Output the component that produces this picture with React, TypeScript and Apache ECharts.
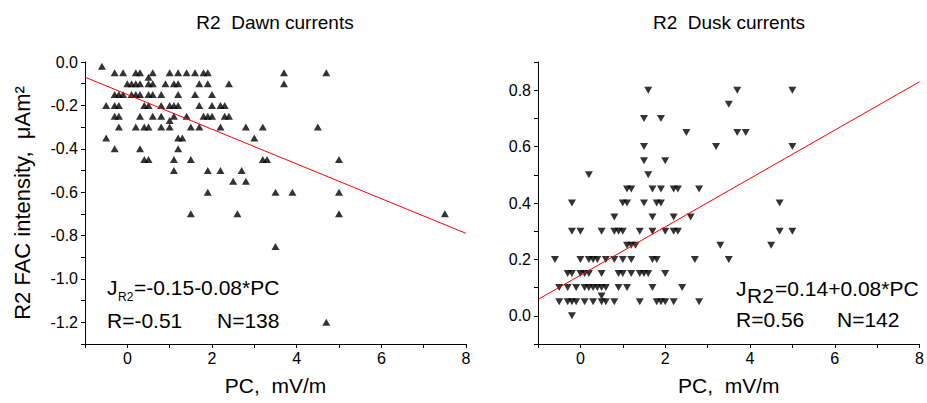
import React, { useEffect, useRef } from "react";
import * as echarts from "echarts";

const FONT = "Liberation Sans, Arial, sans-serif";

// Dawn (left) scatter points [PC, J]
const dawnPoints: number[][] = [
  [-0.6, -0.02],
  [-0.3, -0.05], [-0.1, -0.05], [0.2, -0.05], [0.3, -0.05], [0.6, -0.05], [1.0, -0.05], [1.2, -0.05],
  [1.4, -0.05], [1.6, -0.05], [1.8, -0.05], [1.9, -0.05], [3.7, -0.05], [4.7, -0.05],
  [0.5, -0.07],
  [0.0, -0.1], [0.1, -0.1], [0.2, -0.1], [0.3, -0.1], [0.5, -0.1], [0.6, -0.1], [0.9, -0.1], [1.1, -0.1],
  [1.2, -0.1], [1.7, -0.1], [1.9, -0.1], [2.4, -0.1], [3.7, -0.1],
  [-0.3, -0.15], [-0.2, -0.15], [-0.1, -0.15], [0.1, -0.15], [0.2, -0.15], [0.3, -0.15], [0.5, -0.15],
  [0.6, -0.15], [0.8, -0.15], [1.2, -0.15], [1.6, -0.15], [2.0, -0.15],
  [-0.5, -0.2], [-0.3, -0.2], [-0.2, -0.2], [0.4, -0.2], [0.5, -0.2], [0.8, -0.2], [1.0, -0.2], [1.1, -0.2],
  [1.2, -0.2], [1.7, -0.2], [2.0, -0.2], [2.2, -0.2], [2.3, -0.2],
  [-0.3, -0.25], [-0.2, -0.25], [0.3, -0.25], [0.6, -0.25], [0.8, -0.25], [1.1, -0.25], [1.4, -0.25],
  [1.8, -0.25], [1.9, -0.25], [2.0, -0.25], [2.3, -0.25], [2.4, -0.25],
  [1.0, -0.27],
  [-0.2, -0.3], [0.2, -0.3], [0.4, -0.3], [0.5, -0.3], [0.8, -0.3], [1.0, -0.3], [1.5, -0.3], [1.7, -0.3],
  [2.2, -0.3], [2.8, -0.3], [3.2, -0.3], [4.5, -0.3],
  [-0.5, -0.35], [1.2, -0.35], [1.3, -0.35], [3.0, -0.35],
  [-0.3, -0.4], [0.3, -0.4], [1.2, -0.4],
  [0.4, -0.45], [0.5, -0.45], [1.1, -0.45], [1.5, -0.45], [3.2, -0.45], [3.3, -0.45], [5.0, -0.45],
  [1.1, -0.5], [1.9, -0.5], [2.2, -0.5], [2.7, -0.5],
  [2.5, -0.55], [2.8, -0.55],
  [1.9, -0.6], [3.5, -0.6], [3.9, -0.6], [5.0, -0.6],
  [1.5, -0.7], [2.6, -0.7], [5.0, -0.7], [7.5, -0.7],
  [3.5, -0.85], [4.7, -1.2],
];

// Dusk (right) scatter points [PC, J]
const duskPoints: number[][] = [
  [1.6, 0.8], [3.7, 0.8], [5.0, 0.8],
  [3.5, 0.75],
  [1.5, 0.7], [1.9, 0.7],
  [2.5, 0.65], [3.7, 0.65], [3.9, 0.65],
  [1.5, 0.6], [3.2, 0.6], [5.0, 0.6],
  [1.5, 0.55], [2.0, 0.55],
  [0.2, 0.5], [1.6, 0.5],
  [1.1, 0.45], [1.2, 0.45], [1.7, 0.45], [1.9, 0.45], [2.2, 0.45], [2.3, 0.45], [2.8, 0.45],
  [-0.2, 0.4], [1.0, 0.4], [1.1, 0.4], [1.5, 0.4], [1.8, 0.4], [1.9, 0.4], [4.7, 0.4],
  [0.8, 0.35], [1.7, 0.35], [2.2, 0.35], [2.6, 0.35],
  [-0.2, 0.3], [0.0, 0.3], [0.5, 0.3], [0.8, 0.3], [0.9, 0.3], [1.0, 0.3], [1.4, 0.3], [1.7, 0.3],
  [2.0, 0.3], [2.2, 0.3], [2.3, 0.3], [4.7, 0.3], [5.0, 0.3],
  [1.1, 0.25], [1.2, 0.25], [1.3, 0.25], [3.3, 0.25], [4.5, 0.25],
  [-0.6, 0.2], [0.0, 0.2], [0.2, 0.2], [0.3, 0.2], [0.4, 0.2], [0.6, 0.2], [0.8, 0.2], [1.0, 0.2],
  [1.2, 0.2], [1.7, 0.2], [1.8, 0.2], [2.7, 0.2], [3.5, 0.2],
  [-0.3, 0.15], [-0.2, 0.15], [0.0, 0.15], [0.1, 0.15], [0.2, 0.15], [0.5, 0.15], [0.9, 0.15], [1.0, 0.15],
  [1.2, 0.15], [1.4, 0.15], [1.5, 0.15], [1.6, 0.15], [2.0, 0.15],
  [-0.5, 0.1], [-0.3, 0.1], [-0.1, 0.1], [0.1, 0.1], [0.2, 0.1], [0.3, 0.1], [0.4, 0.1], [0.5, 0.1],
  [0.6, 0.1], [0.9, 0.1], [1.1, 0.1], [1.7, 0.1], [2.4, 0.1],
  [0.5, 0.07],
  [-0.5, 0.05], [-0.3, 0.05], [-0.2, 0.05], [-0.1, 0.05], [0.1, 0.05], [0.3, 0.05], [0.5, 0.05], [0.6, 0.05],
  [0.8, 0.05], [1.4, 0.05], [1.8, 0.05], [1.9, 0.05], [2.0, 0.05], [2.2, 0.05], [2.8, 0.05],
  [-0.2, 0.0],
];

// Fit lines (end points)
const dawnFit: number[][] = [[-1, -0.07], [8, -0.79]];
const duskFit: number[][] = [[-1, 0.058], [8, 0.83]];

const titles = ["R2  Dawn currents", "R2  Dusk currents"];
const xAxisName = "PC,  mV/m";
const yAxisName = "R2 FAC intensity,  μAm²";

function makeX(gridIndex: number) {
  return {
    gridIndex,
    type: "value",
    min: -1,
    max: 8,
    interval: 1,
    name: xAxisName,
    nameLocation: "middle",
    nameGap: 31,
    nameTextStyle: { fontSize: 21, color: "#000", fontFamily: FONT },
    axisLine: { show: true, onZero: false, lineStyle: { color: "#000", width: 1 } },
    axisTick: { show: true, inside: false, length: 4, lineStyle: { color: "#000", width: 1 } },
    axisLabel: {
      show: true,
      margin: 6,
      fontSize: 16,
      color: "#000",
      fontFamily: FONT,
      formatter: (v: number) => {
        const r = Math.round(v);
        return r >= 0 && r % 2 === 0 ? String(r) : "";
      },
    },
    splitLine: { show: false },
  };
}

function makeY(gridIndex: number, min: number, max: number, withName: boolean) {
  return {
    gridIndex,
    type: "value",
    min,
    max,
    interval: 0.1,
    name: withName ? yAxisName : "",
    nameLocation: "middle",
    nameGap: 52,
    nameTextStyle: { fontSize: 22, color: "#000", fontFamily: FONT },
    axisLine: { show: true, onZero: false, lineStyle: { color: "#000", width: 1 } },
    axisTick: { show: true, inside: false, length: 4, lineStyle: { color: "#000", width: 1 } },
    axisLabel: {
      show: true,
      margin: 7,
      fontSize: 16,
      color: "#000",
      fontFamily: FONT,
      formatter: (v: number) => {
        const r = Math.round(v * 10);
        return r % 2 === 0 ? (r / 10).toFixed(1) : "";
      },
    },
    splitLine: { show: false },
  };
}

function txt(text: string, x: number, y: number, size: number, align = "left") {
  return {
    type: "text",
    x,
    y,
    style: {
      text,
      fontSize: size,
      fontFamily: FONT,
      fill: "#000",
      align,
      verticalAlign: "middle",
    },
  };
}

export default function App() {
  const ref = useRef<HTMLDivElement>(null);
  useEffect(() => {
    if (!ref.current) return;
    const chart = echarts.init(ref.current, null, { renderer: "svg" });
    chart.setOption({
      animation: false,
      backgroundColor: "#fff",
      grid: [
        { left: 85, top: 62, width: 381, height: 282 },
        { left: 538, top: 62, width: 382, height: 282 },
      ],
      xAxis: [makeX(0), makeX(1)],
      yAxis: [makeY(0, -1.3, 0, true), makeY(1, -0.1, 0.9, false)],
      series: [
        {
          type: "scatter",
          xAxisIndex: 0,
          yAxisIndex: 0,
          data: dawnPoints,
          symbol: "triangle",
          symbolSize: [8, 7],
          itemStyle: { color: "#000" },
        },
        {
          type: "scatter",
          xAxisIndex: 1,
          yAxisIndex: 1,
          data: duskPoints,
          symbol: "triangle",
          symbolRotate: 180,
          symbolSize: [8, 7],
          itemStyle: { color: "#000" },
        },
        {
          type: "line",
          xAxisIndex: 0,
          yAxisIndex: 0,
          data: dawnFit,
          symbol: "none",
          lineStyle: { color: "#ff0000", width: 1 },
        },
        {
          type: "line",
          xAxisIndex: 1,
          yAxisIndex: 1,
          data: duskFit,
          symbol: "none",
          lineStyle: { color: "#ff0000", width: 1 },
        },
      ],
      graphic: [
        txt(titles[0], 275, 22, 19, "center"),
        txt(titles[1], 729, 22, 19, "center"),
        txt("J", 107, 287, 21),
        txt("R2", 118, 297, 12),
        txt("=-0.15-0.08*PC", 134, 287, 21),
        txt("R=-0.51", 107, 320, 21),
        txt("N=138", 217, 320, 21),
        txt("J", 736, 288, 21),
        txt("R2", 747, 295, 21),
        txt("=0.14+0.08*PC", 775, 288, 21),
        txt("R=0.56", 736, 319, 21),
        txt("N=142", 837, 319, 21),
      ],
    });
    return () => chart.dispose();
  }, []);
  return (
    <div
      ref={ref}
      style={{ position: "absolute", left: 0, top: 0, width: 927, height: 403 }}
    />
  );
}
